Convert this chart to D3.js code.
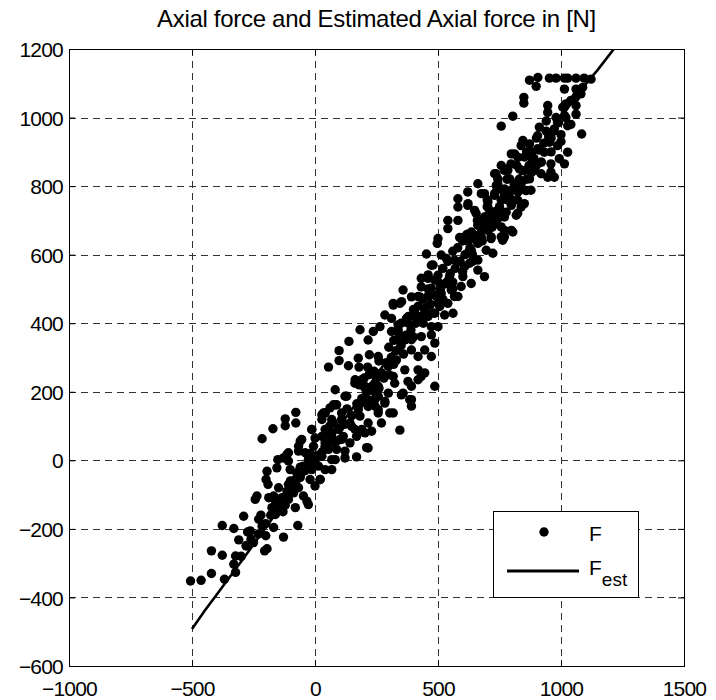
<!DOCTYPE html>
<html>
<head>
<meta charset="utf-8">
<script src="https://cdn.jsdelivr.net/npm/d3@7"></script>
<style>
  body { margin: 0; background: #fff; }
  text { font-family: 'Liberation Sans', Arial, sans-serif; fill: #000; }
</style>
</head>
<body>
<div id="container"></div>
<script>
const dimensions = { x: 716, y: 700 };
const plot = { left: 69, right: 684, top: 49, bottom: 666 };
const dotRadius = 4.7;

const titleText = 'Axial force and Estimated Axial force in [N]';
const xTicks = [-1000, -500, 0, 500, 1000, 1500];
const yTicks = [-600, -400, -200, 0, 200, 400, 600, 800, 1000, 1200];

// measured points, [F_est, F]
const lowerCloud = [
  [-506, -352], [-463, -350], [-421, -330], [-368, -347], [-323, -327], [-330, -303],
  [-323, -279], [-377, -277], [-421, -264], [-279, -248], [-310, -232], [-274, -209],
  [-330, -199], [-377, -190], [-263, -206], [-290, -163], [-229, -172], [-205, -264],
  [-195, -258], [-215, -192], [-168, -196], [-128, -224], [-70, -190], [-243, -114],
  [-236, -104], [-188, -109], [-168, -104], [-175, -138], [-148, -124], [-121, -131],
  [-108, -114], [-80, -138], [-47, -104], [-33, -119], [-27, -129], [-215, 63],
  [-171, 92], [-121, 101], [-121, 121], [-78, 109], [-78, 140], [-195, -32],
  [-199, -56], [-191, -70], [-151, 2], [-155, -22], [-114, 17], [-108, -2],
  [-101, -27], [-67, 27], [-60, 56], [-54, 61], [-13, 90], [0, 65], [28, 133],
  [41, 138], [61, 153], [82, 162], [75, 109], [68, 80], [41, 51], [55, 32],
  [28, 12], [14, -17], [0, -2], [-13, -27], [-20, -56], [0, -75], [21, -56],
  [-27, 2], [-47, -17], [-74, -36], [-80, -56], [-108, -70], [-114, -90], [-87, -95],
  [-67, -80], [68, -27], [82, 2], [82, 51], [41, 90], [-148, -80], [-134, -109],
  [-161, -158], [-141, -143]
];

const middleCloud = [
  [55, 272], [98, 320], [98, 291], [138, 347], [136, 276], [176, 298], [179, 272],
  [183, 381], [216, 351], [214, 272], [221, 308], [237, 376], [264, 390], [257, 303],
  [284, 424], [311, 414], [318, 453], [345, 458], [358, 497], [392, 477], [426, 477],
  [432, 506], [473, 569], [460, 531], [487, 526], [338, 381], [372, 414], [406, 429],
  [446, 439], [338, 351], [365, 351], [392, 322], [419, 303], [446, 322], [473, 390],
  [487, 342], [473, 303], [163, 235], [203, 216], [244, 221], [298, 274], [331, 293],
  [318, 245], [365, 264], [419, 264], [432, 245], [392, 216], [358, 196], [298, 196],
  [257, 187], [244, 158], [216, 177], [176, 158], [129, 187], [82, 206], [88, 162],
  [41, 138], [68, 119], [108, 138], [142, 109], [183, 129], [216, 109], [257, 138],
  [284, 167], [318, 138], [203, 80], [163, 90], [115, 70], [68, 70], [28, 70],
  [-13, 90], [-6, 41], [-40, 22], [41, 41], [88, 32], [142, 51], [210, 37],
  [345, 88], [385, 177], [392, 158], [446, 255], [487, 216], [-108, 22], [-67, 41],
  [-128, 7], [122, 187], [75, 162], [34, 138], [28, 119], [108, 119], [95, 90],
  [55, 75], [108, 61], [21, 12], [68, 2], [41, -27], [21, -56], [122, 27],
  [122, 7], [169, 10], [216, 36], [169, 70], [149, 99], [190, 90], [230, 85],
  [270, 109], [304, 138], [257, 148], [216, 157], [176, 148], [203, 177], [243, 177],
  [284, 172], [392, 177], [351, 191], [257, 216], [203, 211], [190, 235], [162, 225],
  [324, 225], [378, 230], [419, 235]
];

const upperCloud = [
  [318, 458], [352, 463], [419, 478], [432, 531], [460, 541], [453, 602], [480, 570],
  [500, 647], [497, 633], [540, 676], [540, 700], [581, 700], [588, 650], [615, 657],
  [581, 739], [581, 763], [621, 783], [621, 744], [662, 807], [655, 720], [662, 686],
  [689, 778], [703, 739], [513, 599], [534, 589], [567, 584], [547, 536], [507, 516],
  [473, 502], [513, 487], [554, 497], [581, 478], [540, 458], [507, 449], [487, 429],
  [527, 424], [561, 429], [460, 420], [432, 405], [406, 420], [379, 400], [338, 395],
  [311, 376], [392, 352], [432, 361], [473, 366], [500, 390], [567, 478], [601, 536],
  [628, 575], [662, 584], [635, 613], [675, 642], [696, 613], [723, 604], [716, 652],
  [757, 652], [770, 671], [736, 691], [770, 710], [730, 720], [743, 807], [736, 836],
  [770, 846], [797, 865], [811, 894], [851, 885], [838, 807], [797, 788], [824, 759],
  [851, 749], [878, 788], [892, 846], [885, 875], [689, 536], [662, 555], [635, 516],
  [594, 507], [608, 565], [703, 671], [662, 633], [784, 759], [770, 778], [730, 778],
  [689, 710], [824, 721], [804, 666], [763, 642]
];

const topCloud = [
  [872, 1109], [906, 1117], [899, 1091], [953, 1115], [980, 1115], [1014, 1115],
  [1027, 1115], [1061, 1115], [1094, 1115], [1122, 1112], [1014, 1083], [1061, 1083],
  [1088, 1088], [1081, 1069], [849, 1059], [849, 1042], [804, 1004], [757, 975],
  [946, 1035], [946, 1015], [1007, 1030], [1014, 1006], [1061, 1035], [1061, 1010],
  [1084, 952], [986, 986], [1027, 976], [973, 967], [912, 972], [905, 947],
  [845, 933], [838, 918], [872, 923], [798, 894], [825, 884], [872, 889], [905, 909],
  [932, 899], [953, 928], [986, 918], [1027, 899], [993, 880], [1014, 865], [959, 865],
  [919, 870], [885, 855], [831, 850], [784, 846], [757, 860], [730, 836], [743, 821],
  [791, 821], [825, 812], [872, 821], [919, 836], [959, 841], [973, 826], [946, 826],
  [858, 787], [825, 783], [770, 792], [737, 802], [730, 773], [676, 778], [703, 754],
  [757, 758], [798, 744], [838, 739], [818, 715], [777, 724], [743, 705], [703, 715],
  [663, 686], [703, 681], [757, 681], [798, 671], [770, 652], [716, 647], [676, 652],
  [636, 666], [649, 729], [622, 749]
];

// solid band along the estimate line
const bandCloud = [
  [-250, -240], [-230, -215], [-200, -185], [-180, -160], [-150, -140], [-130, -110],
  [-110, -95], [-90, -75], [-60, -50], [-40, -30], [-20, -10], [10, 15], [30, 25],
  [50, 45], [70, 60], [100, 95], [120, 105], [150, 130], [170, 165], [190, 180],
  [210, 200], [230, 215], [250, 240], [270, 255], [290, 285], [310, 300], [330, 320],
  [350, 335], [370, 365], [390, 380], [410, 400], [430, 420], [450, 445], [470, 455],
  [490, 480], [510, 500], [530, 515], [550, 545], [570, 560], [590, 580], [610, 600],
  [630, 620], [650, 645], [670, 660], [690, 680], [710, 700], [730, 725], [750, 740],
  [770, 765], [790, 780], [810, 805], [830, 820], [850, 845], [870, 860], [890, 880],
  [910, 905], [930, 925], [950, 945], [970, 960], [990, 985], [200, 240], [260, 210],
  [320, 350], [400, 440], [460, 480], [520, 560], [560, 520], [620, 660], [640, 600],
  [700, 740], [680, 700], [780, 820], [820, 790], [880, 900], [900, 860], [940, 960],
  [960, 900], [1000, 950], [1040, 1050], [1020, 1040]
];

const denseCloud = [
  [180, 220], [200, 170], [220, 250], [240, 200], [260, 290], [280, 240], [300, 330],
  [320, 280], [340, 370], [360, 310], [380, 420], [400, 360], [420, 450], [440, 400],
  [460, 500], [480, 430], [500, 540], [520, 470], [540, 580], [560, 500], [580, 620],
  [600, 550], [620, 640], [640, 580], [660, 700], [680, 640], [700, 760], [720, 680],
  [740, 790], [760, 720], [780, 850], [800, 760], [820, 860], [840, 790], [860, 900],
  [880, 840], [900, 940], [920, 870], [940, 990], [960, 940], [980, 1000], [1000, 930],
  [1020, 1000], [1040, 980], [1060, 1060], [860, 820], [600, 640], [560, 610], [500, 460],
  [440, 470], [350, 400], [300, 250], [240, 260], [130, 150], [100, 60], [60, 100],
  [-20, 20], [-60, -20], [-100, -60], [-130, -150], [-160, -120], [-200, -220],
  [-220, -160], [-260, -230], [-300, -280], [-280, -250]
];

const estLineX = [-500, -450, -400, -300, -200, -160, -100, 0, 100, 200, 300, 400, 500, 600, 700, 800, 900, 1000, 1080, 1150, 1215];
const estLineY = [-492, -440, -392, -295, -196, -156, -98, 2, 100, 198, 300, 398, 500, 600, 702, 800, 900, 1000, 1080, 1140, 1200];

const points = [].concat(lowerCloud, middleCloud, upperCloud, topCloud, bandCloud, denseCloud);

const svg = d3
  .select('#container')
  .append('svg')
  .attr('width', dimensions.x)
  .attr('height', dimensions.y);

const xScale = d3.scaleLinear().domain([-1000, 1500]).range([plot.left, plot.right]);
const yScale = d3.scaleLinear().domain([-600, 1200]).range([plot.bottom, plot.top]);

svg
  .append('defs')
  .append('clipPath')
  .attr('id', 'plotClip')
  .append('rect')
  .attr('x', plot.left)
  .attr('y', plot.top)
  .attr('width', plot.right - plot.left)
  .attr('height', plot.bottom - plot.top);

// grid
const grid = svg.append('g').attr('stroke', '#333').attr('stroke-width', 1).attr('stroke-dasharray', '7,5');
grid
  .selectAll('.vgrid')
  .data(xTicks.slice(1, -1))
  .enter()
  .append('line')
  .attr('x1', (d) => Math.round(xScale(d)) + 0.5)
  .attr('x2', (d) => Math.round(xScale(d)) + 0.5)
  .attr('y1', plot.top)
  .attr('y2', plot.bottom);
grid
  .selectAll('.hgrid')
  .data(yTicks.slice(1, -1))
  .enter()
  .append('line')
  .attr('y1', (d) => Math.round(yScale(d)) + 0.5)
  .attr('y2', (d) => Math.round(yScale(d)) + 0.5)
  .attr('x1', plot.left)
  .attr('x2', plot.right);

// axes through d3 axis generators, ticks pointing inward
const xAxisBottom = d3.axisBottom(xScale).tickValues(xTicks).tickSize(-6).tickPadding(10).tickFormat(d3.format('d'));
const xAxisTop = d3.axisTop(xScale).tickValues(xTicks).tickSize(-6).tickFormat('');
const yAxisLeft = d3.axisLeft(yScale).tickValues(yTicks).tickSize(-6).tickPadding(6).tickFormat(d3.format('d'));
const yAxisRight = d3.axisRight(yScale).tickValues(yTicks).tickSize(-6).tickFormat('');

const axisBottom = svg.append('g').attr('transform', 'translate(0,' + plot.bottom + ')').call(xAxisBottom);
const axisTop = svg.append('g').attr('transform', 'translate(0,' + plot.top + ')').call(xAxisTop);
const axisLeft = svg.append('g').attr('transform', 'translate(' + plot.left + ',0)').call(yAxisLeft);
const axisRight = svg.append('g').attr('transform', 'translate(' + plot.right + ',0)').call(yAxisRight);

[axisBottom, axisTop, axisLeft, axisRight].forEach((a) => {
  a.select('.domain').remove();
  a.selectAll('line').attr('stroke', '#000');
  a.selectAll('text')
    .style('font-family', "'Liberation Sans', Arial, sans-serif")
    .style('font-size', '21px')
    .style('letter-spacing', '-0.8px')
    .attr('fill', '#000');
});
axisBottom.selectAll('text').attr('dy', '0.95em');
axisLeft.selectAll('text').attr('dy', '0.36em');

// points
svg
  .append('g')
  .attr('clip-path', 'url(#plotClip)')
  .selectAll('circle')
  .data(points)
  .enter()
  .append('circle')
  .attr('cx', (d) => xScale(d[0]))
  .attr('cy', (d) => yScale(d[1]))
  .attr('r', dotRadius)
  .attr('fill', '#000');

// estimated force line
const estLine = d3
  .line()
  .x((d, i) => xScale(estLineX[i]))
  .y((d, i) => yScale(estLineY[i]));

svg
  .append('path')
  .attr('clip-path', 'url(#plotClip)')
  .attr('d', estLine(estLineX))
  .attr('fill', 'none')
  .attr('stroke', '#000')
  .attr('stroke-width', 2.6);

// axes box
svg
  .append('rect')
  .attr('x', plot.left + 0.5)
  .attr('y', plot.top + 0.5)
  .attr('width', plot.right - plot.left)
  .attr('height', plot.bottom - plot.top)
  .attr('fill', 'none')
  .attr('stroke', '#000')
  .attr('stroke-width', 1);

// title
svg
  .append('text')
  .attr('x', (plot.left + plot.right) / 2)
  .attr('y', 27)
  .attr('text-anchor', 'middle')
  .style('font-size', '24px')
  .style('letter-spacing', '-0.3px')
  .text(titleText);

// legend
const legend = svg.append('g');
legend
  .append('rect')
  .attr('x', 493.5)
  .attr('y', 511.5)
  .attr('width', 145)
  .attr('height', 86)
  .attr('fill', '#fff')
  .attr('stroke', '#000');
legend.append('circle').attr('cx', 544).attr('cy', 532).attr('r', dotRadius).attr('fill', '#000');
legend
  .append('line')
  .attr('x1', 507)
  .attr('x2', 579)
  .attr('y1', 571)
  .attr('y2', 571)
  .attr('stroke', '#000')
  .attr('stroke-width', 3);
legend.append('text').attr('x', 589).attr('y', 541).style('font-size', '21px').text('F');
const estLabel = legend.append('text').attr('x', 589).attr('y', 575).style('font-size', '21px');
estLabel.append('tspan').text('F');
estLabel.append('tspan').attr('dy', 11).style('font-size', '19px').text('est');
</script>
</body>
</html>
